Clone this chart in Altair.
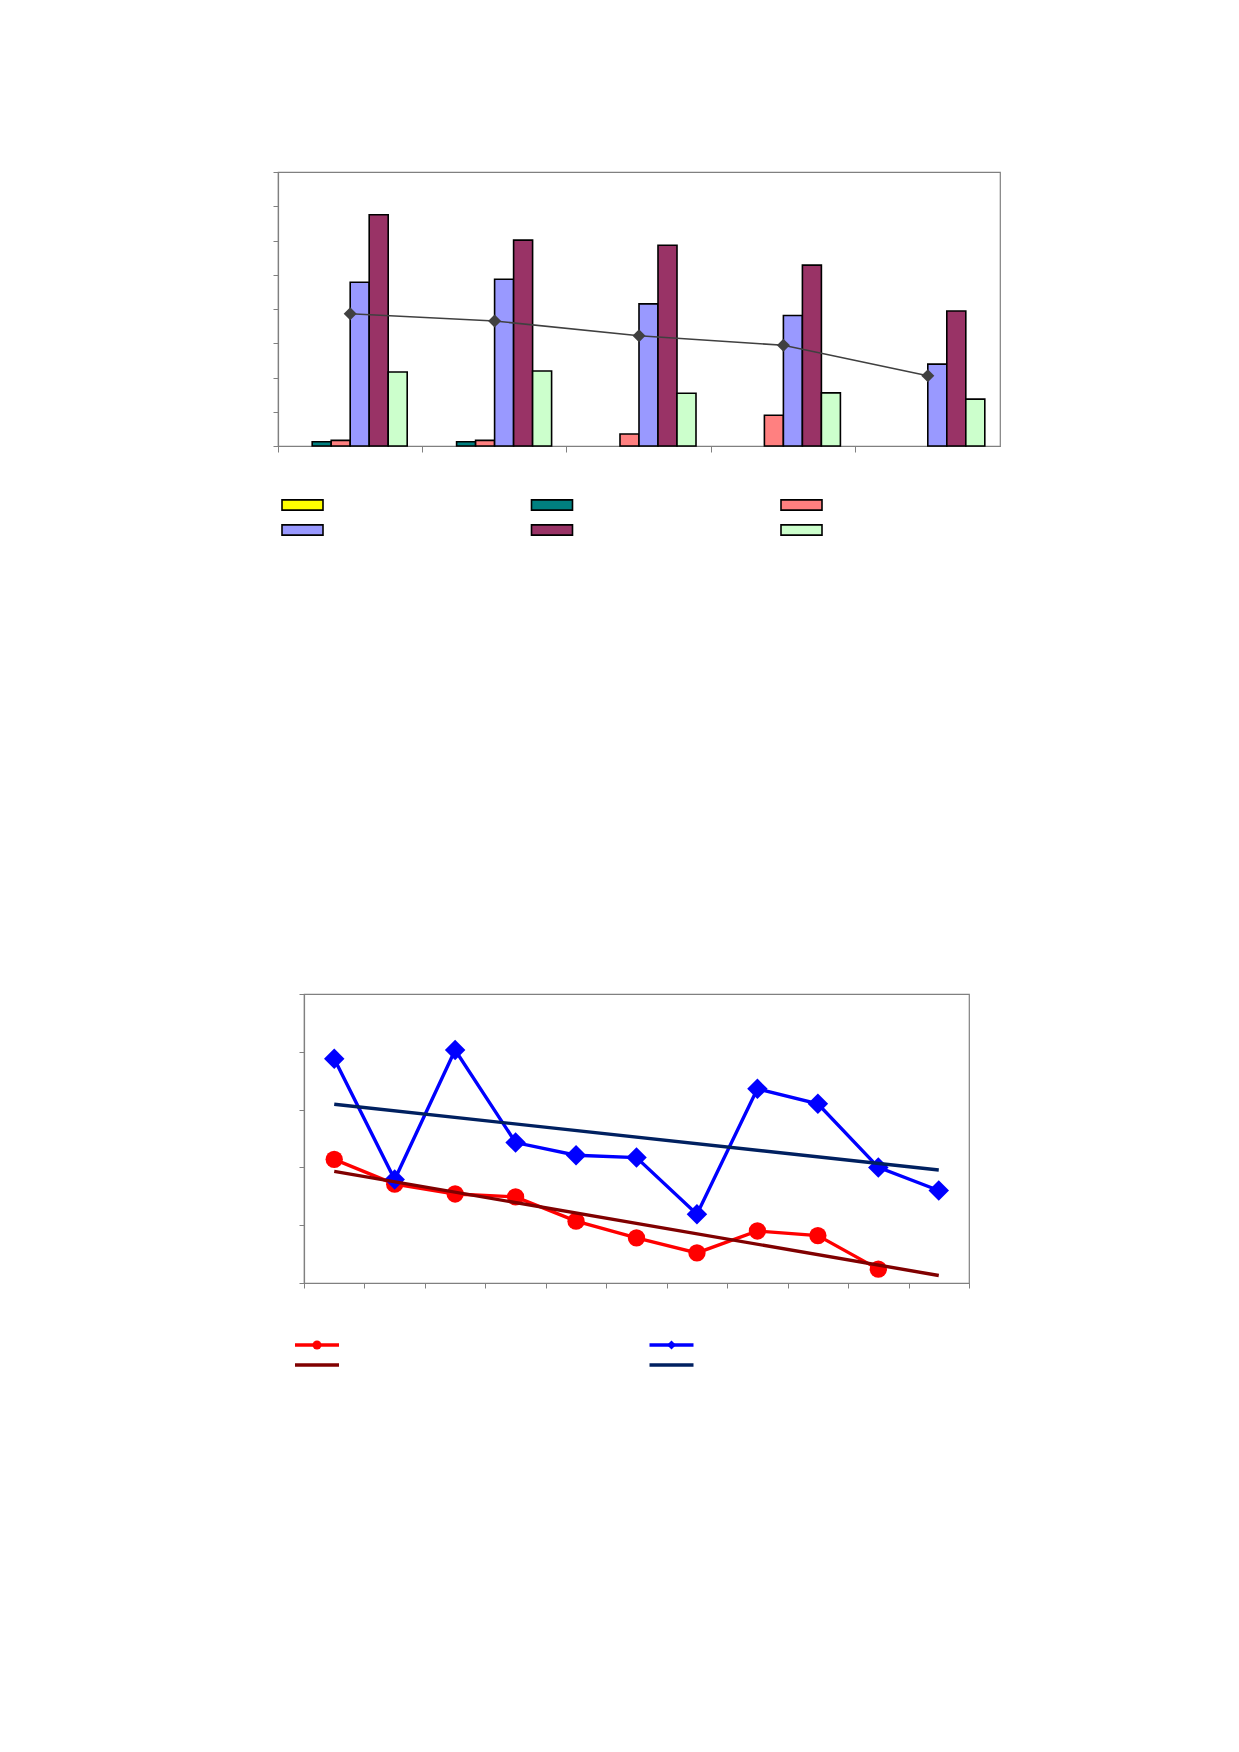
import altair as alt
import pandas as pd

# ---------------- top chart data ----------------
categories = ["1", "2", "3", "4", "5"]
series_names = ["S1", "S2", "S3", "S4", "S5", "S6"]
series_colors = ["#FFFF00", "#008080", "#FF8080", "#9999FF", "#993366", "#CCFFCC"]
s1 = [0, 0, 0, 0, 0]
s2 = [1.26, 1.26, 0, 0, 0]
s3 = [1.65, 1.65, 3.5, 9.0, 0]
s4 = [47.8, 48.7, 41.5, 38.1, 23.9]
s5 = [67.5, 60.1, 58.6, 52.8, 39.4]
s6 = [21.6, 21.9, 15.4, 15.5, 13.7]
line_vals = [38.6, 36.5, 32.2, 29.4, 20.5]

# ---------------- bottom chart data ----------------
idx = list(range(1, 12))
red_vals = [2.14, 1.71, 1.54, 1.49, 1.07, 0.78, 0.52, 0.90, 0.82, 0.24]
blue_vals = [3.88, 1.79, 4.03, 2.43, 2.21, 2.17, 1.19, 3.36, 3.10, 2.00, 1.60]

series_data = [s1, s2, s3, s4, s5, s6]
bar_rows = []
for name, vals in zip(series_names, series_data):
    for c, v in zip(categories, vals):
        bar_rows.append({"cat": c, "series": name, "value": v})
bar_df = pd.DataFrame(bar_rows)
line_df = pd.DataFrame({"cat": categories, "value": line_vals})

leg1_df = pd.DataFrame({
    "series": series_names,
    "col": [i % 3 for i in range(len(series_names))],
    "row": [i // 3 for i in range(len(series_names))],
})

GRAY = "#808080"
SWATCH = "M-1,-0.25L1,-0.25L1,0.25L-1,0.25Z"
HLINE = "M-1,0L1,0"

top_x_axis = alt.Axis(title=None, labels=False, bandPosition=0, tickSize=6,
                      minExtent=100, grid=False)
top_y_axis = alt.Axis(title=None, labels=False, values=list(range(0, 81, 10)),
                      tickSize=5, minExtent=10, grid=False)
top_x_scale = alt.Scale(paddingInner=0, paddingOuter=0)
top_y_scale = alt.Scale(domain=[0, 80], nice=False)

bars = alt.Chart(bar_df).transform_filter(
    alt.datum.value > 0
).mark_bar(stroke="black", strokeWidth=1.6).encode(
    x=alt.X("cat:N", sort=categories, scale=top_x_scale, axis=top_x_axis),
    xOffset=alt.XOffset("series:N", sort=series_names,
                        scale=alt.Scale(domain=series_names, paddingInner=0, paddingOuter=0.8)),
    y=alt.Y("value:Q", scale=top_y_scale, axis=top_y_axis),
    color=alt.Color("series:N", scale=alt.Scale(domain=series_names, range=series_colors),
                    legend=None),
)

avg_line = alt.Chart(line_df).mark_line(
    color="#404040", strokeWidth=1.6,
    point=alt.OverlayMarkDef(shape="diamond", size=170, color="#404040", filled=True, opacity=1),
).encode(
    x=alt.X("cat:N", sort=categories, scale=top_x_scale, axis=top_x_axis),
    y=alt.Y("value:Q", scale=top_y_scale, axis=top_y_axis),
)

leg1 = alt.Chart(leg1_df).mark_point(
    shape=SWATCH, size=1681, filled=True, stroke="black", strokeWidth=1.6, opacity=1
).encode(
    x=alt.X("col:O", scale=alt.Scale(type="point", padding=0.5, range=[-100.25, 648.25]), axis=None),
    y=alt.Y("row:O", scale=alt.Scale(type="point", padding=0.5, range=[320.5, 370.5]), axis=None),
    fill=alt.Fill("series:N", scale=alt.Scale(domain=series_names, range=series_colors), legend=None),
)

top = alt.layer(alt.layer(bars, avg_line), leg1).resolve_scale(
    x="independent", y="independent"
).properties(width=722, height=274)

# ---------------- bottom chart ----------------
red_df = pd.DataFrame({"idx": idx[:len(red_vals)], "value": red_vals})
blue_df = pd.DataFrame({"idx": idx, "value": blue_vals})

x_enc = alt.X("idx:Q", scale=alt.Scale(domain=[0.5, 11.5], nice=False, zero=False),
              axis=alt.Axis(title=None, labels=False, values=[i - 0.5 for i in range(1, 13)],
                            tickSize=5, grid=False))
y_enc = alt.Y("value:Q", scale=alt.Scale(domain=[0, 5], nice=False),
              axis=alt.Axis(title=None, labels=False, values=[0, 1, 2, 3, 4, 5],
                            tickSize=5, minExtent=12, grid=False))

red_line = alt.Chart(red_df).mark_line(
    color="#FF0000", strokeWidth=3.4,
    point=alt.OverlayMarkDef(shape="circle", size=300, color="#FF0000", filled=True, opacity=1),
).encode(x=x_enc, y=y_enc)

blue_line = alt.Chart(blue_df).mark_line(
    color="#0000FF", strokeWidth=3.4,
    point=alt.OverlayMarkDef(shape="diamond", size=420, color="#0000FF", filled=True, opacity=1),
).encode(x=x_enc, y=y_enc)

red_trend = alt.Chart(red_df).transform_regression(
    "idx", "value", extent=[1, 11]
).mark_line(color="#800000", strokeWidth=3.4).encode(x=x_enc, y=y_enc)

blue_trend = alt.Chart(blue_df).transform_regression(
    "idx", "value", extent=[1, 11]
).mark_line(color="#002060", strokeWidth=3.4).encode(x=x_enc, y=y_enc)

leg2_keys = ["red", "darkred", "blue", "navy"]
leg2_colors = ["#FF0000", "#800000", "#0000FF", "#002060"]
leg2_df = pd.DataFrame({"key": leg2_keys, "col": [0, 0, 1, 1], "row": [0, 1, 0, 1]})
mark2_df = pd.DataFrame({"key": ["red", "blue"], "col": [0, 1], "row": [0, 0],
                         "shape": ["circle", "diamond"]})

lx = alt.X("col:O", scale=alt.Scale(type="point", padding=0.5, range=[-164.25, 544.75]), axis=None)
ly = alt.Y("row:O", scale=alt.Scale(type="point", padding=0.5, range=[341, 381]), axis=None)

leg2_lines = alt.Chart(leg2_df).mark_point(
    shape=HLINE, size=1936, filled=False, strokeWidth=3.4, opacity=1
).encode(
    x=lx, y=ly,
    stroke=alt.Stroke("key:N", scale=alt.Scale(domain=leg2_keys, range=leg2_colors), legend=None),
)
leg2_marks = alt.Chart(mark2_df).mark_point(filled=True, size=80, opacity=1).encode(
    x=lx, y=ly,
    shape=alt.Shape("shape:N", scale=alt.Scale(domain=["circle", "diamond"], range=["circle", "diamond"]),
                    legend=None),
    fill=alt.Fill("key:N", scale=alt.Scale(domain=["red", "blue"], range=["#FF0000", "#0000FF"]),
                  legend=None),
)
leg2 = alt.layer(leg2_lines, leg2_marks)

bottom = alt.layer(
    alt.layer(red_line, blue_line, red_trend, blue_trend), leg2
).resolve_scale(x="independent", y="independent").properties(width=665, height=289)

# invisible spacer that shifts the lower chart to the right of the upper one
spacer = alt.Chart(pd.DataFrame({"v": [0]})).mark_point(opacity=0).properties(
    width=9, height=10, view=alt.ViewBackground(stroke="transparent", strokeWidth=0)
)
bottom_row = alt.hconcat(spacer, bottom, spacing=0)

chart = alt.vconcat(top, bottom_row, spacing=445).resolve_scale(
    color="independent", fill="independent", stroke="independent", shape="independent"
).properties(
    padding={"left": 259, "top": 162, "right": 5, "bottom": 5},
    background="white",
).configure_view(
    stroke=GRAY, strokeWidth=1.2
).configure_axis(
    domainColor=GRAY, tickColor=GRAY, domainWidth=1.2, tickWidth=1, labels=False, grid=False
)

chart.save("out.html", embed_options={"renderer": "svg", "actions": False})
